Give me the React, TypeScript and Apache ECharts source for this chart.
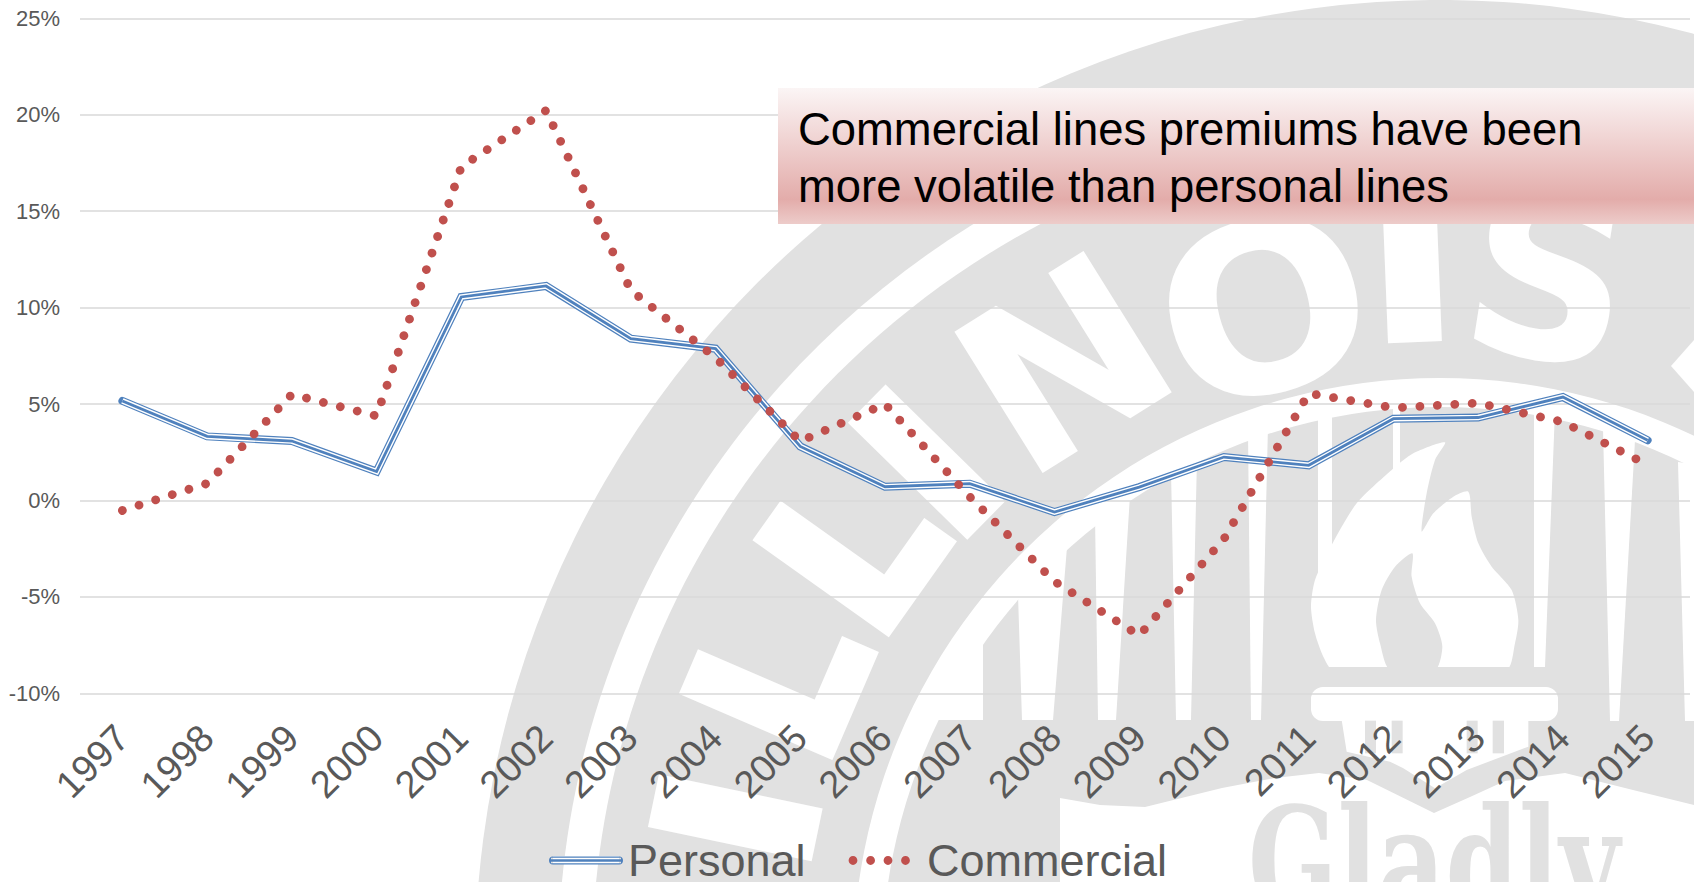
import React, { useEffect, useRef } from "react";
import * as echarts from "echarts";

// Annual premium growth, percent
const years = ["1997","1998","1999","2000","2001","2002","2003","2004","2005","2006","2007","2008","2009","2010","2011","2012","2013","2014","2015"];
const personal = [5.16,3.32,3.08,1.5,10.55,11.12,8.39,7.87,2.8,0.71,0.87,-0.6,0.69,2.25,1.82,4.24,4.3,5.36,3.12];
const commercial = [-0.52,0.88,5.5,4.38,17.3,20.22,10.9,7.4,3.07,5.0,0.19,-4.2,-7.0,-2.0,5.55,4.8,5.05,4.07,1.85];
const headline = "Commercial lines premiums have been\nmore volatile than personal lines";
const sealLetters = "ILLINOIS".split("");
const sealMotto = "Gladly";

const GREY = "#E1E1E1";
const WHITE = "#FFFFFF";
const BLUE = "#4F81BD";
const RED = "#C0504D";
const INK = "#595959";
const FONT = '"Liberation Sans", Arial, sans-serif';

// Seal is concentric around a point near the lower right of the page
const CX = 1440;
const CY = 965;

const disc = (r: number, fill: string) => ({ type: "circle", shape: { cx: CX, cy: CY, r }, style: { fill } });
const oval = (rx: number, ry: number, fill: string) => ({ type: "ellipse", shape: { cx: CX, cy: CY, rx, ry }, style: { fill } });
const poly = (points: number[][], fill: string, smooth = 0) => ({ type: "polygon", shape: { points, smooth }, style: { fill } });

// Letter placement on the seal: angle from vertical (deg), radius, x scale, y scale, outline width
const letterSpec = [
  [78.2, 716, 1.0, 0.93, 10],
  [66.7, 719, 0.9, 0.93, 10],
  [54.6, 719, 0.9, 0.93, 10],
  [45.6, 715, 1.0, 0.93, 10],
  [32, 707, 1.0, 0.98, 0],
  [15, 678, 1.07, 1.0, 0],
  [2.3, 703, 1.0, 0.93, 10],
  [-9, 696, 0.98, 1.0, 0],
];

const letterEls = sealLetters.map((ch, i) => {
  const [deg, radius, sx, sy, outline] = letterSpec[i];
  const a = (deg * Math.PI) / 180;
  return {
    type: "text",
    x: CX - radius * Math.sin(a),
    y: CY - radius * Math.cos(a),
    rotation: a,
    scaleX: sx,
    scaleY: sy,
    style: {
      text: ch,
      fill: WHITE,
      stroke: outline ? WHITE : undefined,
      lineWidth: outline,
      font: 'bold 233px "DejaVu Sans"',
      textAlign: "center",
      textVerticalAlign: "middle",
    },
  };
});

// Flame, bowl and stem coordinates are given in a local frame and placed by the helper
const local = (pts: number[][]) => pts.map(([u, v]) => [1200 + u / 3, 400 + v / 3]);

const flameOuter = local([[400,810],[370,770],[345,700],[333,620],[345,540],[395,435],[470,310],[575,210],[640,160],[735,127],[705,180],[680,280],[665,395],[700,340],[760,290],[805,275],[815,350],[835,430],[875,500],[935,570],[955,660],[945,730],[918,810]]);
const flameInner = local([[570,810],[540,730],[528,660],[545,570],[585,500],[637,460],[635,530],[660,610],[705,670],[727,740],[705,810]]);
const stem = local([[425,960],[440,1055],[570,1085],[610,1105],[705,1165],[800,1110],[985,1040],[985,960]]);
const flutes = [[495,528],[575,608],[800,833],[878,912]];

const pillarGaps = [
  [[920,720],[983,720],[983,637],[1018,595],[1018,565],[1000,585],[955,645]],
  [[1018,595],[1022,720],[1053,720],[1067,547],[1075,525],[1030,555]],
  [[1098,720],[1116,720],[1130,495],[1095,515]],
  [[1176,720],[1191,720],[1197,458],[1171,470]],
  [[1251,720],[1261,720],[1268,425],[1248,430]],
  [[1318,410],[1332,410],[1332,560],[1318,580]],
  [[1393,405],[1400,405],[1400,465],[1393,470]],
  [[1534,410],[1555,410],[1545,667],[1534,667]],
  [[1603,428],[1635,440],[1619,721],[1610,721]],
  [[1678,462],[1700,465],[1700,721],[1685,721]],
];

const banner = [[1060,798],[1100,805],[1145,807],[1222,788],[1275,778],[1319,773],[1367,780],[1434,813],[1470,797],[1505,781],[1565,773],[1633,790],[1694,805],[1700,882],[1060,882]];

const sealElements = [
  disc(965, GREY),
  oval(882, 873, WHITE),
  oval(848, 840, GREY),
  ...letterEls,
  poly([[1694,340],[1671,366],[1694,392]], WHITE),
  disc(587, WHITE),
  disc(558, GREY),
  ...pillarGaps.map((g) => poly(g, WHITE)),
  poly(flameOuter, WHITE, 0.25),
  poly(flameInner, GREY, 0.25),
  { type: "rect", shape: { x: 1305, y: 667, width: 228, height: 20 }, style: { fill: GREY } },
  { type: "rect", shape: { x: 1311, y: 687, width: 247, height: 34, r: 12 }, style: { fill: WHITE } },
  poly(stem, WHITE),
  ...flutes.map(([a, b]) => poly(local([[a,962],[b,962],[b,1060],[a,1060]]), GREY)),
  poly(banner, WHITE),
  {
    type: "text",
    x: 1248,
    y: 937,
    scaleX: 0.7,
    style: {
      text: sealMotto,
      fill: GREY,
      font: 'bold 150px "DejaVu Serif"',
      textAlign: "left",
      textVerticalAlign: "bottom",
    },
  },
  { type: "rect", shape: { x: 553, y: 856, width: 66, height: 8 }, style: { fill: WHITE } },
].map((el, i) => ({ ...el, z: -100 + i }));

// Legend glyphs: a triple-stripe capsule and a row of four dots
const capsuleIcon =
  "path://M4 0H70C73 0 74 2 74 4C74 6 73 8 70 8H4C1 8 0 6 0 4C0 2 1 0 4 0Z" +
  "M2 1.3V2.7H72V1.3Z" +
  "M2 5.3V6.7H72V5.3Z";
const dot = (x: number) => {
  const r = 4.4;
  const k = r * 0.5523;
  return `M${x - r} 5C${x - r} ${5 - k} ${x - k} ${5 - r} ${x} ${5 - r}C${x + k} ${5 - r} ${x + r} ${5 - k} ${x + r} 5C${x + r} ${5 + k} ${x + k} ${5 + r} ${x} ${5 + r}C${x - k} ${5 + r} ${x - r} ${5 + k} ${x - r} 5Z`;
};
const dotsIcon = "path://M0 0L0 0ZM75 10L75 10Z" + [6, 23.6, 41, 58.5].map(dot).join("");

export default function App() {
  const ref = useRef<HTMLDivElement>(null);

  useEffect(() => {
    const chart = echarts.init(ref.current!, undefined, { renderer: "svg" });
    const personalLayer = (width: number, color: string, cap: string) => ({
      name: "Personal",
      type: "line",
      data: personal,
      symbol: "none",
      itemStyle: { color: BLUE },
      lineStyle: { width, color, cap, join: "miter", miterLimit: 10 },
    });
    const legendBase = {
      padding: 0,
      selectedMode: false,
      textStyle: { fontSize: 45, color: INK, fontFamily: FONT },
    };
    chart.setOption({
      animation: false,
      textStyle: { fontFamily: FONT },
      grid: { left: 80, right: 4, top: 18.3, bottom: 188.7, containLabel: false },
      xAxis: {
        type: "category",
        data: years,
        boundaryGap: true,
        axisLine: { show: false },
        axisTick: { show: false },
        splitLine: { show: false },
        axisLabel: { rotate: 45, margin: 38, fontSize: 38, color: INK, interval: 0, fontFamily: FONT },
      },
      yAxis: {
        type: "value",
        min: -10,
        max: 25,
        interval: 5,
        axisLine: { show: false },
        axisTick: { show: false },
        splitLine: { lineStyle: { color: "#D9D9D9", width: 1.5 } },
        axisLabel: { formatter: "{value}%", margin: 20, fontSize: 22, color: INK, fontFamily: FONT },
      },
      legend: [
        {
          ...legendBase,
          left: 549,
          top: 838,
          itemWidth: 74,
          itemHeight: 8,
          data: [{ name: "Personal", icon: capsuleIcon, itemStyle: { color: BLUE, borderWidth: 0 } }],
        },
        {
          ...legendBase,
          left: 847,
          top: 838,
          itemWidth: 75,
          itemHeight: 10,
          data: [{ name: "Commercial", icon: dotsIcon, itemStyle: { color: RED, borderWidth: 0 } }],
        },
      ],
      graphic: {
        elements: [
          ...sealElements,
          {
            type: "rect",
            z: 50,
            shape: { x: 778, y: 88, width: 916, height: 136 },
            style: {
              fill: new echarts.graphic.LinearGradient(0, 0, 0, 1, [
                { offset: 0, color: "#FBF5F5" },
                { offset: 0.82, color: "#E3ACAA" },
                { offset: 1, color: "#EDCCCA" },
              ]),
            },
          },
          {
            type: "text",
            z: 51,
            x: 798,
            y: 101,
            style: {
              text: headline,
              fill: "#000000",
              font: `45.4px ${FONT}`,
              lineHeight: 57,
              textAlign: "left",
              textVerticalAlign: "top",
            },
          },
        ],
      },
      series: [
        personalLayer(8, BLUE, "round"),
        personalLayer(5.6, WHITE, "butt"),
        personalLayer(2.8, BLUE, "butt"),
        {
          name: "Commercial",
          type: "line",
          data: commercial,
          symbol: "none",
          itemStyle: { color: RED },
          lineStyle: { width: 8.8, color: RED, type: [0.01, 17.45], cap: "round" },
        },
      ],
    });
    return () => chart.dispose();
  }, []);

  return <div ref={ref} style={{ position: "absolute", left: 0, top: 0, width: 1694, height: 882 }} />;
}
